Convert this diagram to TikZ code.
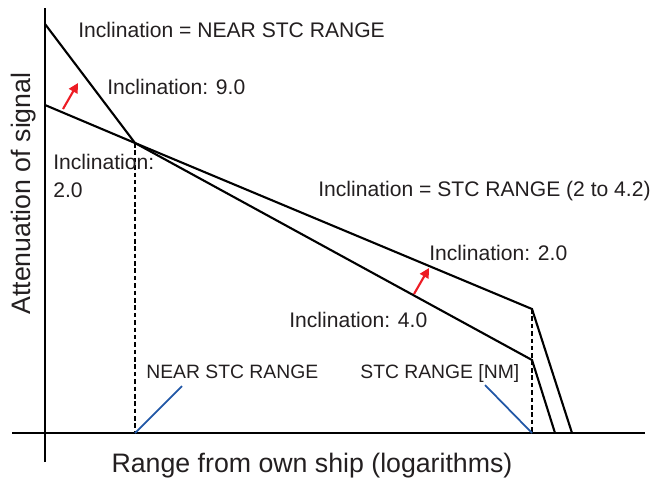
\documentclass[tikz,border=0pt]{standalone}
\usepackage{fontspec}
\setmainfont{Liberation Sans}
\usetikzlibrary{arrows.meta}
\definecolor{stcred}{RGB}{237,28,36}
\definecolor{stcblue}{RGB}{33,87,166}
\definecolor{txtgray}{RGB}{35,31,32}

\begin{document}
\begin{tikzpicture}[
  axisline/.style={line width=1.2pt, draw=black},
  attline/.style={line width=1.2pt, draw=black, line join=miter},
  guide/.style={line width=1pt, draw=black, dash pattern=on 2.6pt off 1.6pt},
  pointer/.style={line width=1pt, draw=stcblue},
  redarrow/.style={line width=1.2pt, draw=stcred, -{Triangle[length=5.5pt,width=5.5pt]}},
  lbl/.style={anchor=west, inner sep=0pt, text=txtgray, font=\fontsize{12}{16}\selectfont},
  marklbl/.style={lbl, font=\fontsize{11}{13}\selectfont},
  axlbl/.style={inner sep=0pt, text=txtgray, font=\fontsize{15.2}{18}\selectfont}
]
  \useasboundingbox (0,0) rectangle (13.06,9.6);

  % axes
  \coordinate (O) at (0.9,0.94);
  \coordinate (ytop) at (0.9,9.44);
  \coordinate (ybot) at (0.9,0.36);
  \coordinate (xleft) at (0.24,0.94);
  \coordinate (xright) at (12.9,0.94);

  % corners of the two attenuation curves
  \coordinate (steeptop) at (0.9,9.12);
  \coordinate (flattop) at (0.9,7.5);
  \coordinate (near) at (2.7,6.74);
  \coordinate (nearfoot) at (2.7,0.94);
  \coordinate (steepend) at (10.64,2.4);
  \coordinate (flatend) at (10.64,3.42);
  \coordinate (stcfoot) at (10.64,0.94);
  \coordinate (steepzero) at (11.1,0.94);
  \coordinate (flatzero) at (11.44,0.94);

  % curves
  \draw[attline] (steeptop) -- (near) -- (steepend) -- (steepzero);
  \draw[attline] (flattop) -- (near) -- (flatend) -- (flatzero);
  \draw[guide] (near) -- (nearfoot);
  \draw[guide] (flatend) -- (stcfoot);

  \draw[axisline] (ybot) -- (ytop);
  \draw[axisline] (xleft) -- (xright);

  % red arrows
  \coordinate (up1s) at (1.26,7.42);
  \coordinate (up1e) at (1.56,7.94);
  \coordinate (up2s) at (8.28,3.72);
  \coordinate (up2e) at (8.58,4.24);
  \draw[redarrow] (up1s) -- (up1e);
  \draw[redarrow] (up2s) -- (up2e);

  % labels
  \node[lbl] (nearinc) at (1.56,9.0) {Inclination = NEAR STC RANGE};
  \node[lbl] (inc9) at (2.14,7.86) {Inclination: 9.0};
  \node[lbl, align=left] (inc2a) at (1.06,6.08) {Inclination:\\2.0};
  \node[lbl] (stcinc) at (6.36,5.78) {Inclination = STC RANGE (2 to 4.2)};
  \node[lbl] (inc2b) at (8.58,4.54) {Inclination: 2.0};
  \node[lbl] (inc4) at (5.78,3.2) {Inclination: 4.0};
  \node[marklbl] (nearlbl) at (2.92,2.16) {NEAR STC RANGE};
  \node[marklbl] (stclbl) at (7.2,2.14) {STC RANGE [NM]};
  \node[axlbl] (xlbl) at (6.24,0.28) {Range from own ship (logarithms)};
  \node[axlbl, rotate=90] (ylbl) at (0.47,5.73) {Attenuation of signal};

  % blue pointers
  \coordinate (neartip) at (3.64,1.88);
  \coordinate (stctip) at (9.7,1.9);
  \draw[pointer] (nearfoot) -- (neartip);
  \draw[pointer] (stcfoot) -- (stctip);
\end{tikzpicture}
\end{document}
